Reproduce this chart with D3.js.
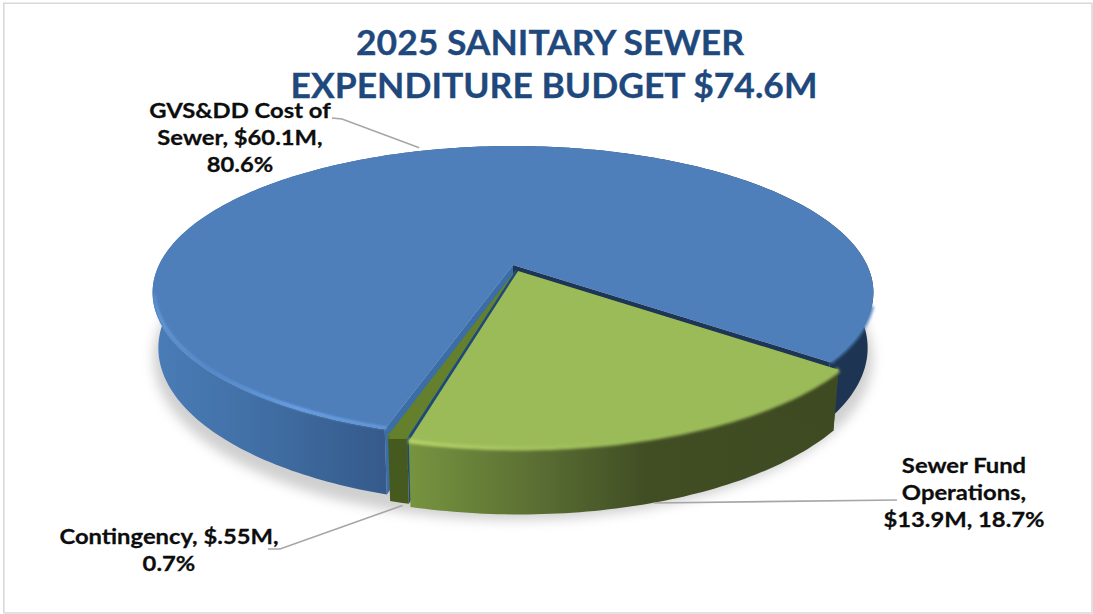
<!DOCTYPE html>
<html>
<head>
<meta charset="utf-8">
<script src="https://cdn.jsdelivr.net/npm/d3@7/dist/d3.min.js"></script>
<style>
html,body{margin:0;padding:0;background:#fff;}
svg{display:block;}
</style>
</head>
<body>
<svg id="chart" width="1093" height="614"></svg>
<script>
// Budget shares, in millions of dollars
const categories = ["GVS&DD Cost of Sewer", "Sewer Fund Operations", "Contingency"];
const amounts = [60.1, 13.9, 0.55];
const sliceColors = ["#4e7fbb", "#9bbb59", "#64802c"];
const titleLines = ["2025 SANITARY SEWER", "EXPENDITURE BUDGET $74.6M"];
const labelLines = [
  ["GVS&DD Cost of", "Sewer, $60.1M,", "80.6%"],
  ["Sewer Fund", "Operations,", "$13.9M, 18.7%"],
  ["Contingency, $.55M,", "0.7%"]
];

const svg = d3.select("#chart");
const defs = svg.append("defs");
const rad = d => d * Math.PI / 180;

// Tilted disc: plane coordinates on the unit circle, projected with perspective
const view = {cx: 513, cy: 265, rx: 354, ry: 141.3, k: -0.1877, depth: 53.5, shrink: 0.984};
function project(x, y, down) {
  const w = 1 + view.k * y;
  const s = down ? view.shrink : 1;
  return [view.cx + s * view.rx * x / w,
          view.cy + view.ry * y / w + (down ? view.depth / w : 0)];
}
const onRim = (a, off) => [Math.sin(a) + off[0], -Math.cos(a) + off[1]];
const linePath = d3.line();

const pie = d3.pie().sort(null).value(d => d)
  .startAngle(rad(197.3)).endAngle(rad(197.3 + 360));
const slices = pie(amounts);

// The two front slices are pulled slightly out of the blue one
const pullAngle = (slices[1].startAngle + slices[1].endAngle) / 2;
const pullDir = [Math.sin(pullAngle), -Math.cos(pullAngle)];
const pull = [0, 0.044, 0.03];
const offsets = pull.map(p => [p * pullDir[0], p * pullDir[1]]);

function arcSamples(s, off) {
  const n = Math.ceil((s.endAngle - s.startAngle) / rad(1));
  return d3.range(n + 1).map(i => onRim(s.startAngle + (s.endAngle - s.startAngle) * i / n, off));
}
const topFace = (s, off) => linePath([project(off[0], off[1], false),
  ...arcSamples(s, off).map(p => project(p[0], p[1], false))]) + "Z";
const outerWall = (s, off) => {
  const pts = arcSamples(s, off);
  return linePath([...pts.map(p => project(p[0], p[1], false)),
    ...pts.slice().reverse().map(p => project(p[0], p[1], true))]) + "Z";
};
const radialWall = (a, off) => {
  const p = onRim(a, off);
  return linePath([project(off[0], off[1], false), project(p[0], p[1], false),
    project(p[0], p[1], true), project(off[0], off[1], true)]) + "Z";
};
const rimStroke = (s, off) => linePath(arcSamples(s, off).map(p => project(p[0], p[1], false)));

// Filters and gradients
function blur(id, sd) {
  defs.append("filter").attr("id", id)
    .attr("x", "-10%").attr("y", "-20%").attr("width", "120%").attr("height", "140%")
    .append("feGaussianBlur").attr("stdDeviation", sd);
}
blur("soft", 1.6);
blur("fine", 1);
blur("shadow", 6);
function xGradient(id, x1, x2, stops) {
  const g = defs.append("linearGradient").attr("id", id)
    .attr("gradientUnits", "userSpaceOnUse")
    .attr("x1", x1).attr("x2", x2).attr("y1", 0).attr("y2", 0);
  stops.forEach(s => g.append("stop").attr("offset", s[0]).attr("stop-color", s[1])
    .attr("stop-opacity", s[2] === undefined ? 1 : s[2]));
}
xGradient("wallBlue", 152, 873, [[0, "#4a7cb6"], [0.14, "#4170a6"], [0.33, "#35598a"], [0.6, "#1e3657"], [1, "#1d3553"]]);
xGradient("wallGreen", 410, 836, [[0, "#76943f"], [0.3, "#5a6e33"], [0.55, "#414e24"], [1, "#3e4a21"]]);
xGradient("glowBlue", 150, 390, [[0, "#6ea5e8", 0], [0.04, "#6ea5e8", 0.7], [0.25, "#5f98df", 0.5], [0.6, "#6ea8f0", 0.95], [1, "#70a8ee", 0.6]]);
xGradient("glowGreen", 410, 680, [[0, "#c3de70", 0.95], [0.5, "#aecb62", 0.5], [1, "#9bbb59", 0]]);

// Soft shadow under the disc
const wholeRim = d3.range(0, 361, 2).map(d => onRim(rad(d), [0, 0.02]));
svg.append("path")
  .attr("d", linePath(wholeRim.map(p => {
    const q = project(p[0], p[1], true);
    return [q[0], q[1] + 7];
  })) + "Z")
  .attr("fill", "#a9a9a9").attr("stroke", "#a9a9a9").attr("stroke-width", 7)
  .attr("opacity", 0.55).attr("filter", "url(#shadow)");

const [blue, green, contingency] = slices;

// Only the near half of the blue rim melts into its wall; the far edge stays crisp
const blueRimLeft = {startAngle: blue.startAngle, endAngle: rad(258)};
const blueRimRight = {startAngle: rad(360 + 106), endAngle: blue.endAngle};

// Blue slice: cut faces, outer wall, top face
svg.append("path").attr("d", radialWall(blue.endAngle, offsets[0])).attr("fill", "#1d3557");
svg.append("path").attr("d", radialWall(blue.startAngle, offsets[0])).attr("fill", "#3b6da6");
svg.append("path").attr("d", outerWall(blue, offsets[0])).attr("fill", "url(#wallBlue)");
svg.append("path").attr("d", topFace(blue, offsets[0])).attr("fill", sliceColors[0]);
svg.append("path").attr("d", rimStroke(blueRimRight, offsets[0]))
  .attr("fill", "none").attr("stroke", sliceColors[0]).attr("stroke-width", 4).attr("filter", "url(#soft)");
svg.append("path").attr("d", rimStroke(blueRimLeft, [0.004, -0.006]))
  .attr("fill", "none").attr("stroke", "url(#glowBlue)").attr("stroke-width", 3).attr("filter", "url(#fine)");

// Contingency slice
svg.append("path").attr("d", radialWall(contingency.startAngle, offsets[2])).attr("fill", "#1f4a78");
svg.append("path").attr("d", outerWall(contingency, offsets[2])).attr("fill", "#46591f");
svg.append("path").attr("d", rimStroke(contingency, offsets[2]))
  .attr("fill", "none").attr("stroke", sliceColors[2]).attr("stroke-width", 10).attr("filter", "url(#soft)");
svg.append("path").attr("d", topFace(contingency, offsets[2])).attr("fill", sliceColors[2]);

// Green slice
svg.append("path").attr("d", outerWall(green, offsets[1])).attr("fill", "url(#wallGreen)");
svg.append("path").attr("d", radialWall(green.startAngle, offsets[1])).attr("fill", "#3e4a21");
svg.append("path").attr("d", rimStroke(green, offsets[1]))
  .attr("fill", "none").attr("stroke", sliceColors[1]).attr("stroke-width", 5).attr("filter", "url(#soft)");
svg.append("path").attr("d", topFace(green, offsets[1])).attr("fill", sliceColors[1]);
svg.append("path").attr("d", rimStroke(green, offsets[1]))
  .attr("fill", "none").attr("stroke", "url(#glowGreen)").attr("stroke-width", 2.5).attr("filter", "url(#soft)");

// Leader lines run from each label to the middle of its slice
const midRim = (s, off) => onRim((s.startAngle + s.endAngle) / 2, off);
const leaderEnds = [
  project(...midRim(blue, offsets[0]), false),
  project(...midRim(green, offsets[1]), true),
  project(...midRim(contingency, offsets[2]), true)
];
const leaderStarts = [[[332, 118], [342, 119]], [[897, 500]], [[268, 549], [280, 549]]];
const leaderGap = [[-3, -3], [-4, 1], [3, 3]];
leaderStarts.forEach((start, i) => {
  const end = [leaderEnds[i][0] + leaderGap[i][0], leaderEnds[i][1] + leaderGap[i][1]];
  svg.append("path").attr("d", linePath([...start, end]))
    .attr("fill", "none").attr("stroke", "#a6a6a6").attr("stroke-width", 1.6);
});

// Data labels, widened a little on the horizontal axis
const labelStretch = 1.19;
const labelAnchors = [[240, 118], [964, 473], [169, 544]];
labelLines.forEach((lines, i) => {
  const t = svg.append("text").attr("text-anchor", "middle")
    .attr("transform", `scale(${labelStretch},1)`)
    .attr("font-family", "Lato, sans-serif").attr("font-weight", 700)
    .attr("font-size", 20).attr("fill", "#0d0d0d")
    .attr("stroke", "#0d0d0d").attr("stroke-width", 0.25);
  lines.forEach((line, j) => t.append("tspan")
    .attr("x", labelAnchors[i][0] / labelStretch).attr("y", labelAnchors[i][1] + j * 27).text(line));
});

// Title
const titleStretch = 1.06;
const title = svg.append("text").attr("text-anchor", "middle")
  .attr("transform", `scale(${titleStretch},1)`)
  .attr("font-family", "Lato, sans-serif").attr("font-weight", 700)
  .attr("font-size", 33.5).attr("fill", "#1f497d")
  .attr("stroke", "#1f497d").attr("stroke-width", 0.3);
titleLines.forEach((line, j) => title.append("tspan")
  .attr("x", (550 + (j ? 4 : 0)) / titleStretch).attr("y", 55 + j * 43).text(line));

// Chart frame
svg.append("path").attr("d", "M3.8,613V3.2H1092V613H3.8")
  .attr("fill", "none").attr("stroke", "#d9d9d9").attr("stroke-width", 1.6);
</script>
</body>
</html>
